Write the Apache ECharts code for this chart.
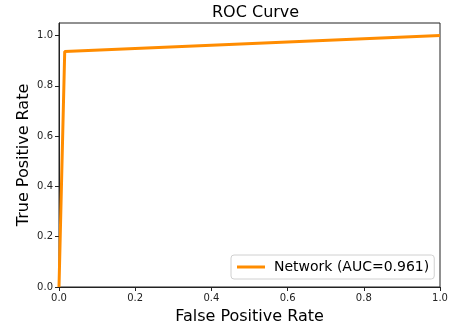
<!DOCTYPE html>
<html><head><meta charset="utf-8">
<script src="https://cdn.jsdelivr.net/npm/echarts@6/dist/echarts.min.js"></script>
<style>html,body{margin:0;padding:0;background:#fff}#c{width:453px;height:331px}</style>
</head><body><div id="c"></div>
<script>
const fpr = [0.0, 0.015, 1.0];
const tpr = [0.0, 0.937, 1.0];
const seriesName = 'Network (AUC=0.961)';
const xTicks = [0, 0.2, 0.4, 0.6, 0.8, 1.0];
const yTicks = [0, 0.2, 0.4, 0.6, 0.8, 1.0];
const font = 'DejaVu Sans';
const chart = echarts.init(document.getElementById('c'), null, {renderer: 'canvas'});
chart.setOption({
  animation: false,
  title: {text: 'ROC Curve', left: 207, top: 0,
    textStyle: {fontFamily: font, fontSize: 16, fontWeight: 'normal', color: '#000'}},
  grid: {left: 59, right: 13, top: 23, bottom: 44, show: true, borderColor: '#222', borderWidth: 1},
  xAxis: {type: 'value', min: 0, max: 1, name: 'False Positive Rate', nameLocation: 'middle', nameGap: 22,
    nameMoveOverlap: false,
    nameTextStyle: {fontFamily: font, fontSize: 16, color: '#000'},
    axisLine: {show: true, onZero: false, lineStyle: {color: '#222'}},
    axisTick: {show: true, length: 4, customValues: xTicks, lineStyle: {color: '#222'}},
    axisLabel: {customValues: xTicks, fontFamily: font, fontSize: 10, color: '#222', margin: 6,
      formatter: v => v.toFixed(1)},
    splitLine: {show: false}},
  yAxis: {type: 'value', min: 0, max: 1.05, name: 'True Positive Rate', nameLocation: 'middle', nameGap: 27,
    nameMoveOverlap: false,
    nameTextStyle: {fontFamily: font, fontSize: 16, color: '#000'},
    axisLine: {show: true, onZero: false, lineStyle: {color: '#222'}},
    axisTick: {show: true, length: 4, customValues: yTicks, lineStyle: {color: '#222'}},
    axisLabel: {customValues: yTicks, fontFamily: font, fontSize: 10, color: '#222', margin: 6,
      formatter: v => v.toFixed(1)},
    splitLine: {show: false}},
  legend: {data: [seriesName], left: 231, top: 255, orient: 'vertical',
    backgroundColor: '#fff', borderColor: '#d0d0d0', borderWidth: 1, borderRadius: 3,
    padding: [5, 5, 5, 6], itemWidth: 28, itemHeight: 10, itemGap: 8,
    icon: 'path://M0,3.5 L28,3.5 L28,6.5 L0,6.5 Z',
    textStyle: {fontFamily: font, fontSize: 14, color: '#000', padding: [0, 0, 0, 4]}},
  series: [{name: seriesName, type: 'line', data: fpr.map((x, i) => [x, tpr[i]]),
    symbol: 'none', lineStyle: {color: '#ff8c00', width: 3}, itemStyle: {color: '#ff8c00'}}]
});
</script></body></html>
